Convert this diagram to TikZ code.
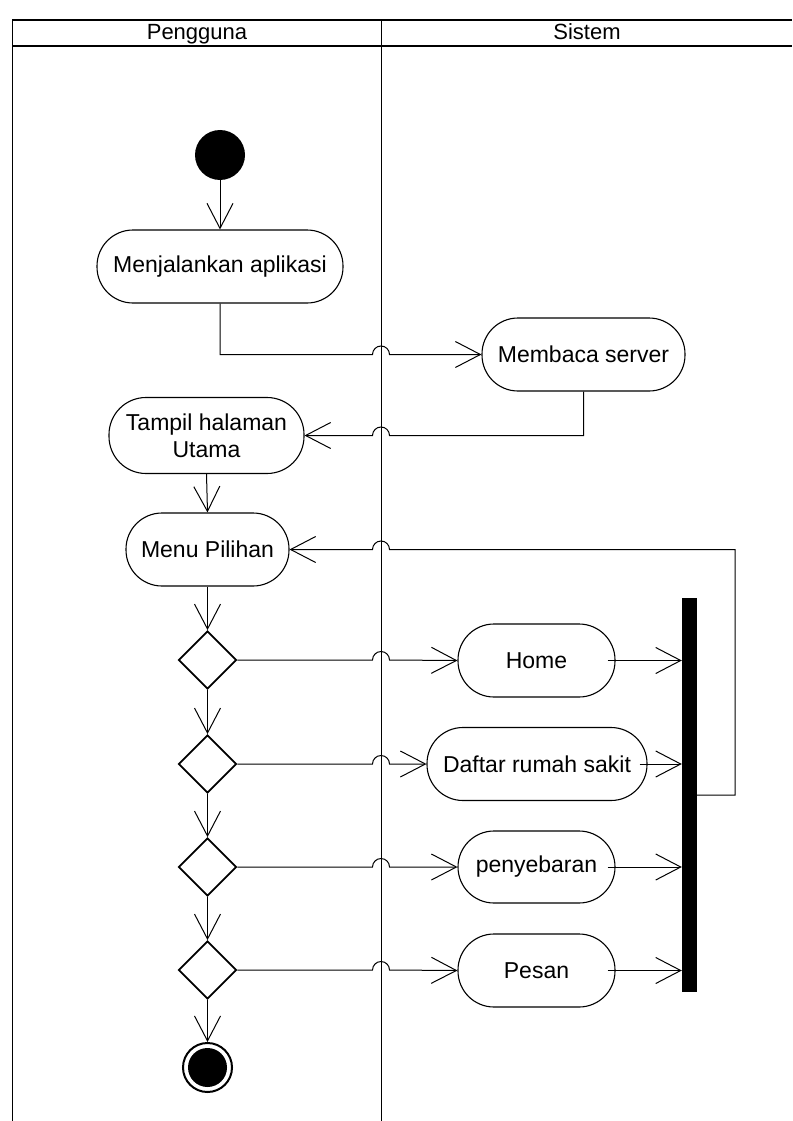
\documentclass[tikz,border=0pt]{standalone}
\usepackage{fontspec}
\setmainfont{Liberation Sans}
\usetikzlibrary{arrows.meta,shapes.geometric,calc}
\tikzset{
  act/.style={draw=black, line width=1.1pt, rectangle, rounded corners=36pt,
    minimum height=73pt, inner sep=0pt, align=center,
    font=\fontsize{23}{27}\selectfont},
  dec/.style={draw=black, line width=1.8pt, diamond, minimum width=58pt,
    minimum height=58pt, inner sep=0pt},
  arr/.style={line width=1pt, -{Straight Barb[length=25pt,width=26pt,line width=1pt]}},
  lane/.style={line width=1pt, draw=black},
  hdr/.style={font=\fontsize{22}{26}\selectfont, inner sep=0pt, anchor=base},
}
\begin{document}
\begin{tikzpicture}[x=1pt,y=-1pt]
\useasboundingbox (0,0) rectangle (792,1121);
% swimlane frame
\draw[lane, line width=1.5pt] (12,20) -- (792,20);
\draw[lane, line width=1.3pt] (12,46) -- (792,46);
\draw[lane] (12,20) -- (12,1121);
\draw[lane] (381,20) -- (381,1121);
\coordinate (div) at (381,0);
\coordinate (fb) at (735,795);
\node[hdr] (h1) at (197,40) {Pengguna};
\node[hdr] (h2) at (587,40) {Sistem};
% nodes
\node[circle, fill=black, minimum size=50pt, inner sep=0pt] (start) at (220,155) {};
\node[act, minimum width=246pt] (menj) at (220,266.5) {Menjalankan aplikasi};
\node[act, minimum width=203pt] (memb) at (583.5,354.5) {Membaca server};
\node[act, minimum width=195pt, minimum height=76pt, rounded corners=37pt] (tampil) at (206.5,435.5) {Tampil halaman\\Utama};
\node[act, minimum width=163pt] (menu) at (207.5,549.5) {Menu Pilihan};
\node[dec] (d1) at (207.5,660) {};
\node[dec] (d2) at (207.5,764) {};
\node[dec] (d3) at (207.5,867) {};
\node[dec] (d4) at (207.5,970) {};
\node[circle, draw=black, line width=2pt, minimum size=49pt, inner sep=0pt] (end) at (207.5,1067.5) {};
\fill[black] (end.center) circle[radius=19.5pt];
\node[act, minimum width=157pt] (home) at (536.5,660.5) {Home};
\node[act, minimum width=220pt] (daftar) at (537,764) {Daftar rumah sakit};
\node[act, minimum width=157pt, minimum height=72pt] (peny) at (536.5,867) {penyebaran};
\node[act, minimum width=157pt] (pesan) at (536.5,970.5) {Pesan};
\node[rectangle, fill=black, minimum width=15pt, minimum height=394pt, inner sep=0pt] (bar) at (689.5,795) {};
% connectors
\draw[arr] (start.south) -- (menj.north);
\draw[arr] (menj.south) |- ($(memb.west -| div)+(-8.5pt,0)$)
  arc[start angle=180,end angle=0,radius=8.5pt] -- (memb.west);
\draw[arr] (memb.south) |- ($(tampil.east -| div)+(8.5pt,0)$)
  arc[start angle=0,end angle=180,radius=8.5pt] -- (tampil.east);
\draw[arr] (tampil.south) -- (menu.north);
\draw[arr] (menu.south) -- (d1.north);
\draw[arr] (d1.south) -- (d2.north);
\draw[arr] (d2.south) -- (d3.north);
\draw[arr] (d3.south) -- (d4.north);
\draw[arr] (d4.south) -- (end.north);
\foreach \d/\n in {d1/home,d2/daftar,d3/peny,d4/pesan}{
  \draw[arr] (\d.east) -- ($(\d.east -| div)+(-8.5pt,0)$)
    arc[start angle=180,end angle=0,radius=8.5pt] -- (\n.west);
  \draw[arr] ([xshift=-8pt]\n.east) -- (\n.east -| bar.west);
}
\draw[arr] (bar.east) -- (fb) |- ($(menu.east -| div)+(8.5pt,0)$)
  arc[start angle=0,end angle=180,radius=8.5pt] -- (menu.east);
\end{tikzpicture}
\end{document}
